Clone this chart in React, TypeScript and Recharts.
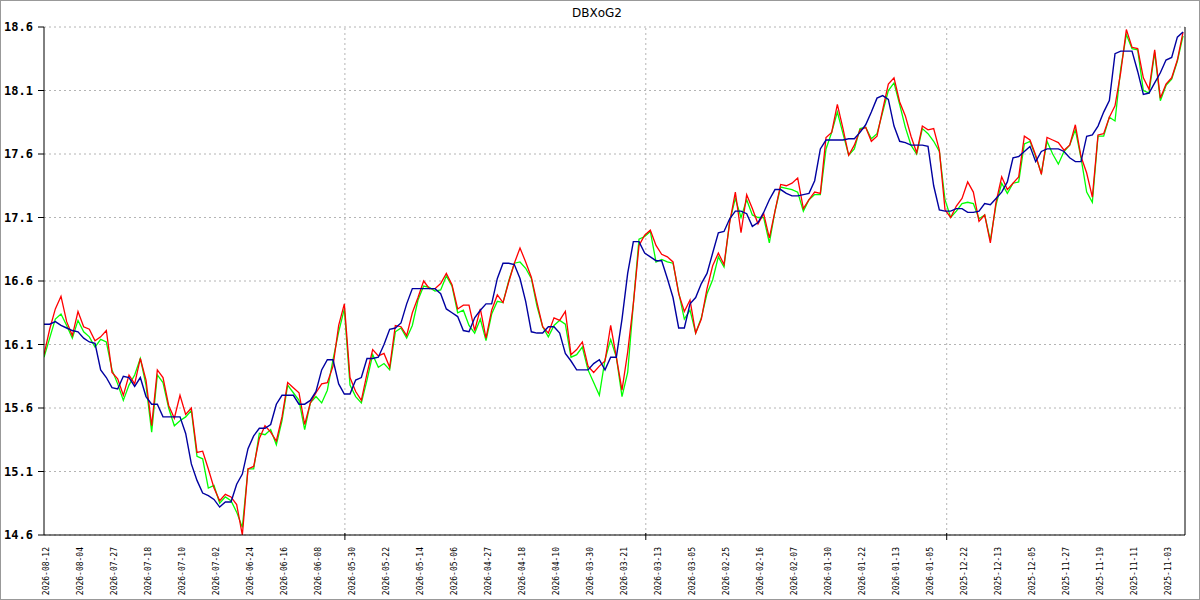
import { LineChart, Line, XAxis, YAxis, CartesianGrid, ReferenceLine } from 'recharts';

// x-axis labels, one every 6 trading days (newest on the left)
const dateLabels = [
  '2026-08-12', '2026-08-04', '2026-07-27', '2026-07-18', '2026-07-10', '2026-07-02',
  '2026-06-24', '2026-06-16', '2026-06-08', '2026-05-30', '2026-05-22', '2026-05-14',
  '2026-05-06', '2026-04-27', '2026-04-18', '2026-04-10', '2026-03-30', '2026-03-21',
  '2026-03-13', '2026-03-05', '2026-02-25', '2026-02-16', '2026-02-07', '2026-01-30',
  '2026-01-22', '2026-01-13', '2026-01-05', '2025-12-22', '2025-12-13', '2025-12-05',
  '2025-11-27', '2025-11-19', '2025-11-11', '2025-11-03',
];

const yTicks = [14.6, 15.1, 15.6, 16.1, 16.6, 17.1, 17.6, 18.1, 18.6];
const gridDays = [53.1, 106.2, 159.3];
const lastDay = 201.35;

const redSeries = [
  16.02, 16.22, 16.38, 16.48, 16.28, 16.17, 16.36, 16.24, 16.22, 16.13,
  16.16, 16.21, 15.88, 15.83, 15.70, 15.86, 15.79, 15.99, 15.82, 15.46,
  15.90, 15.84, 15.62, 15.52, 15.70, 15.55, 15.60, 15.25, 15.26, 15.12,
  14.97, 14.87, 14.92, 14.90, 14.84, 14.60, 15.12, 15.14, 15.36, 15.46,
  15.41, 15.34, 15.53, 15.80, 15.76, 15.72, 15.47, 15.64, 15.72, 15.79,
  15.80, 15.93, 16.25, 16.42, 15.84, 15.73, 15.66, 15.87, 16.06, 16.01,
  16.03, 15.92, 16.25, 16.24, 16.17, 16.35, 16.47, 16.60, 16.54, 16.54,
  16.58, 16.66, 16.57, 16.38, 16.41, 16.41, 16.21, 16.38, 16.15, 16.37,
  16.49, 16.43, 16.59, 16.74, 16.86, 16.75, 16.63, 16.43, 16.24, 16.19,
  16.31, 16.29, 16.36, 16.02, 16.06, 16.12, 15.93, 15.88, 15.93, 15.97,
  16.25, 16.00, 15.74, 16.04, 16.42, 16.88, 16.96, 17.00, 16.88, 16.81,
  16.79, 16.75, 16.50, 16.36, 16.45, 16.19, 16.30, 16.54, 16.72, 16.82,
  16.73, 17.06, 17.30, 16.98, 17.28, 17.17, 17.05, 17.13, 16.94, 17.15,
  17.36, 17.35, 17.37, 17.41, 17.17, 17.24, 17.30, 17.29, 17.73, 17.77,
  17.99, 17.80, 17.59, 17.67, 17.79, 17.81, 17.70, 17.74, 17.95, 18.15,
  18.20, 18.01, 17.90, 17.74, 17.61, 17.82, 17.79, 17.80, 17.63, 17.16,
  17.10, 17.19, 17.25, 17.38, 17.30, 17.07, 17.12, 16.90, 17.22, 17.42,
  17.32, 17.37, 17.42, 17.74, 17.71, 17.59, 17.44, 17.73, 17.71, 17.69,
  17.63, 17.67, 17.83, 17.58, 17.45, 17.26, 17.75, 17.76, 17.89, 17.98,
  18.24, 18.58, 18.44, 18.43, 18.20, 18.11, 18.42, 18.04, 18.15, 18.20,
  18.34, 18.56,
];

const greenSeries = [
  16.00, 16.15, 16.30, 16.34, 16.25, 16.15, 16.29, 16.20, 16.16, 16.08,
  16.14, 16.12, 15.90, 15.79, 15.66, 15.78, 15.86, 15.99, 15.78, 15.41,
  15.86, 15.80, 15.60, 15.46, 15.50, 15.53, 15.58, 15.22, 15.20, 14.97,
  14.99, 14.85, 14.90, 14.87, 14.78, 14.66, 15.12, 15.12, 15.40, 15.39,
  15.43, 15.31, 15.50, 15.78, 15.72, 15.66, 15.43, 15.64, 15.69, 15.64,
  15.74, 15.98, 16.20, 16.38, 15.78, 15.69, 15.64, 15.82, 16.02, 15.92,
  15.95, 15.90, 16.20, 16.23, 16.15, 16.25, 16.45, 16.56, 16.55, 16.52,
  16.53, 16.64, 16.56, 16.35, 16.37, 16.25, 16.19, 16.30, 16.13, 16.34,
  16.44, 16.43, 16.60, 16.74, 16.75, 16.70, 16.62, 16.40, 16.24, 16.16,
  16.25, 16.29, 16.26, 16.00, 16.02, 16.08, 15.90, 15.80, 15.70, 15.98,
  16.14, 16.00, 15.69, 15.88, 16.42, 16.93, 16.95, 16.99, 16.75, 16.77,
  16.75, 16.74, 16.51, 16.30, 16.37, 16.19, 16.31, 16.50, 16.61, 16.79,
  16.71, 17.07, 17.25, 17.10, 17.24, 17.12, 17.10, 17.10, 16.90, 17.15,
  17.34, 17.33, 17.32, 17.30, 17.15, 17.24, 17.28, 17.28, 17.64, 17.77,
  17.93, 17.76, 17.59, 17.64, 17.80, 17.81, 17.72, 17.76, 17.93, 18.10,
  18.16, 17.99, 17.81, 17.67, 17.60, 17.80, 17.76, 17.70, 17.62, 17.24,
  17.10, 17.15, 17.21, 17.22, 17.21, 17.09, 17.12, 16.92, 17.20, 17.37,
  17.29, 17.37, 17.38, 17.68, 17.70, 17.58, 17.45, 17.70, 17.60, 17.52,
  17.62, 17.67, 17.79, 17.57, 17.30, 17.22, 17.74, 17.74, 17.89, 17.86,
  18.27, 18.54, 18.43, 18.42, 18.10, 18.08, 18.40, 18.02, 18.14, 18.19,
  18.33, 18.53,
];

const blueSeries = [
  16.26, 16.26, 16.28, 16.25, 16.23, 16.21, 16.20, 16.15, 16.12, 16.11,
  15.90, 15.84, 15.76, 15.75, 15.85, 15.84, 15.77, 15.84, 15.69, 15.63,
  15.63, 15.53, 15.53, 15.53, 15.53, 15.40, 15.16, 15.03, 14.93, 14.91,
  14.88, 14.82, 14.86, 14.86, 15.00, 15.08, 15.28, 15.38, 15.44, 15.44,
  15.47, 15.63, 15.70, 15.70, 15.70, 15.63, 15.63, 15.66, 15.73, 15.90,
  15.98, 15.98, 15.79, 15.71, 15.71, 15.82, 15.84, 15.99, 15.99, 16.00,
  16.10, 16.22, 16.23, 16.27, 16.42, 16.54, 16.54, 16.54, 16.54, 16.54,
  16.50, 16.38, 16.35, 16.32, 16.21, 16.20, 16.31, 16.37, 16.42, 16.42,
  16.62, 16.74, 16.74, 16.73, 16.62, 16.44, 16.20, 16.19, 16.19, 16.24,
  16.24, 16.19, 16.03, 15.97, 15.90, 15.90, 15.90, 15.95, 15.98, 15.90,
  16.00, 16.00, 16.30, 16.66, 16.91, 16.91, 16.82, 16.79, 16.76, 16.76,
  16.62, 16.47, 16.23, 16.23, 16.42, 16.47, 16.58, 16.66, 16.82, 16.98,
  16.99, 17.09, 17.15, 17.15, 17.13, 17.03, 17.06, 17.14, 17.24, 17.32,
  17.32, 17.29, 17.27, 17.27, 17.28, 17.29, 17.39, 17.64, 17.71, 17.71,
  17.71, 17.71, 17.72, 17.72, 17.77, 17.83, 17.93, 18.04, 18.06, 18.03,
  17.82, 17.70, 17.69, 17.67, 17.67, 17.67, 17.66, 17.35, 17.16, 17.15,
  17.15, 17.17, 17.17, 17.14, 17.14, 17.15, 17.21, 17.20, 17.25, 17.30,
  17.38, 17.57, 17.58, 17.62, 17.66, 17.54, 17.62, 17.64, 17.64, 17.64,
  17.62, 17.57, 17.54, 17.54, 17.74, 17.75, 17.82, 17.93, 18.02, 18.39,
  18.41, 18.41, 18.41, 18.25, 18.07, 18.08, 18.16, 18.24, 18.34, 18.36,
  18.52, 18.56,
];

const data = redSeries.map((v, i) => ({
  day: i,
  red: v,
  green: greenSeries[i],
  blue: blueSeries[i],
}));

const tickDays = dateLabels.map((_, k) => k * 6);

// rotated date label, reading bottom to top
const DateTick = (props: any) => {
  const { x, y, payload } = props;
  const label = dateLabels[Math.round(payload.value / 6)];
  const tx = x + 5;
  const ty = y + 4;
  return (
    <text
      x={tx}
      y={ty}
      transform={`rotate(-90 ${tx} ${ty})`}
      textAnchor="end"
      fontSize={8}
      fontFamily="DejaVu Sans Mono"
      fill="#000"
    >
      {label}
    </text>
  );
};

// dotted vertical grid line with a small tick through the x axis
const GridMark = (props: any) => {
  const { x1, y1, x2, y2 } = props;
  const bottom = Math.max(y1, y2);
  return (
    <g>
      <line x1={x1} y1={y1} x2={x2} y2={y2} stroke="#b4b4b4" strokeDasharray="2 3" />
      <line x1={x1} y1={bottom - 2} x2={x1} y2={bottom + 5} stroke="#000" />
    </g>
  );
};

export default function App() {
  return (
    <div style={{ position: 'relative', width: 1200, height: 600, background: '#fff' }}>
      <style>{'body{margin:0}'}</style>
      <LineChart
        width={1200}
        height={600}
        data={data}
        margin={{ top: 27, right: 15, bottom: 0, left: 0 }}
      >
        <CartesianGrid vertical={false} stroke="#b4b4b4" strokeDasharray="2 3" />
        <XAxis
          dataKey="day"
          type="number"
          domain={[0, lastDay]}
          ticks={tickDays}
          interval={0}
          allowDataOverflow
          tick={<DateTick />}
          tickLine={false}
          axisLine={{ stroke: '#000' }}
          height={65}
        />
        <YAxis
          domain={[14.6, 18.6]}
          ticks={yTicks}
          interval={0}
          allowDataOverflow
          width={44}
          tickSize={6}
          tickMargin={5}
          tickLine={{ stroke: '#000' }}
          axisLine={{ stroke: '#000' }}
          tick={{ fill: '#000', fontSize: 12, fontWeight: 'bold', fontFamily: 'DejaVu Sans Mono' }}
          tickFormatter={(v) => Number(v).toFixed(1)}
        />
        {gridDays.map((d) => (
          <ReferenceLine key={d} x={d} shape={GridMark} />
        ))}
        <ReferenceLine x={lastDay} stroke="#000" />
        <Line type="linear" dataKey="green" stroke="#00ff00" strokeWidth={1.3} dot={false} isAnimationActive={false} />
        <Line type="linear" dataKey="red" stroke="#ff0000" strokeWidth={1.3} dot={false} isAnimationActive={false} />
        <Line type="linear" dataKey="blue" stroke="#0000a0" strokeWidth={1.4} dot={false} isAnimationActive={false} />
      </LineChart>
      <div
        style={{
          position: 'absolute',
          top: 5,
          left: 0,
          width: 1194,
          textAlign: 'center',
          fontFamily: 'DejaVu Sans',
          fontSize: 12,
          lineHeight: '16px',
          color: '#000',
        }}
      >
        DBXoG2
      </div>
      <div
        style={{
          position: 'absolute',
          inset: 0,
          border: '1px solid #999',
          boxSizing: 'border-box',
          pointerEvents: 'none',
        }}
      />
    </div>
  );
}
